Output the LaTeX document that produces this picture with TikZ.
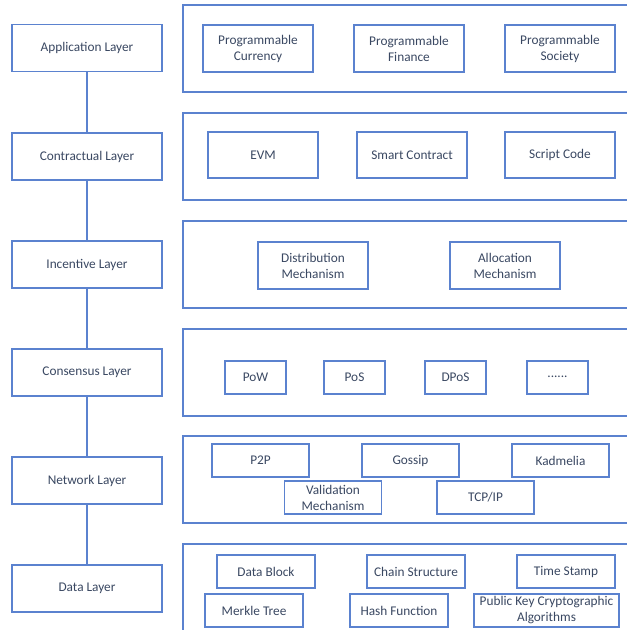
\documentclass[tikz,border=0pt]{standalone}
\usepackage{fontspec}
\setmainfont{Carlito}
\definecolor{edge}{HTML}{5B82CF}
\definecolor{ink}{HTML}{3A4862}
\begin{document}
\begin{tikzpicture}[x=1pt,y=-1pt,
  every node/.style={font=\fontsize{13.3}{16}\selectfont, text=ink, align=center, inner sep=0pt},
  box/.style={draw=edge, line width=1.1pt, fill=white},
  layer/.style={box, minimum width=150, minimum height=47},
  panel/.style={box, minimum width=457, minimum height=87},
  big/.style={box, minimum width=110, minimum height=47},
  small/.style={box, minimum width=61, minimum height=33},
  mid/.style={box, minimum width=97, minimum height=33},
  link/.style={draw=edge, line width=1.1pt}]
\useasboundingbox (0,0) rectangle (627,630);
\clip (0,0) rectangle (627,630);

% layer column
\node[layer] (app) at (87,48)    {Application Layer};
\node[layer] (con) at (87,156.5) {Contractual Layer};
\node[layer] (inc) at (87,264.5) {Incentive Layer};
\node[layer] (cns) at (87,372.5) {Consensus Layer};
\node[layer] (net) at (87,480.5) {Network Layer};
\node[layer] (dat) at (87,588.5) {Data Layer};
\path[link] (app) -- (con) (con) -- (inc) (inc) -- (cns) (cns) -- (net) (net) -- (dat);

% content panels
\node[panel] (p1) at (411.5,48.5)  {};
\node[panel] (p2) at (411.5,156.5) {};
\node[panel] (p3) at (411.5,264.5) {};
\node[panel] (p4) at (411.5,372.5) {};
\node[panel] (p5) at (411.5,479.5) {};
\node[panel, minimum height=96] (p6) at (411.5,592) {};

% application
\node[big] (pc) at (258,48.5) {Programmable\\Currency};
\node[big] (pf) at (409,48.5) {Programmable\\Finance};
\node[big] (ps) at (560,48.5) {Programmable\\Society};

% contractual
\node[big, minimum height=46] (evm) at (263,155) {EVM};
\node[big, minimum height=46] (sc)  at (412,155) {Smart Contract};
\node[big, minimum height=46] (scc) at (560,155) {Script Code};

% incentive
\node[big] (dm) at (313,265.5) {Distribution\\Mechanism};
\node[big] (am) at (505,265.5) {Allocation\\Mechanism};

% consensus
\node[small] (pow)  at (255.5,377.5) {PoW};
\node[small] (pos)  at (354.5,377.5) {PoS};
\node[small] (dpos) at (455.5,377.5) {DPoS};
\node[small] (etc)  at (557.5,377.5) {\raisebox{2pt}{......}};

% network
\node[mid] (p2p)  at (260.5,460.5) {P2P};
\node[mid] (gos)  at (410.5,460.5) {Gossip};
\node[mid] (kad)  at (560.5,460.5) {Kadmelia};
\node[mid] (val)  at (333,497.5)   {Validation\\Mechanism};
\node[mid] (tcp)  at (485.5,497.5) {TCP/IP};

% data
\node[mid, minimum width=98] (db)  at (266,571.5) {Data Block};
\node[mid, minimum width=98] (cs)  at (416,571.5) {Chain Structure};
\node[mid, minimum width=98] (ts)  at (566,571.5) {Time Stamp};
\node[mid, minimum width=98] (mt)  at (254,610.5) {Merkle Tree};
\node[mid, minimum width=98] (hf)  at (399,610.5) {Hash Function};
\node[mid, minimum width=145] (pk) at (546.5,610.5) {Public Key Cryptographic\\Algorithms};
\end{tikzpicture}
\end{document}
